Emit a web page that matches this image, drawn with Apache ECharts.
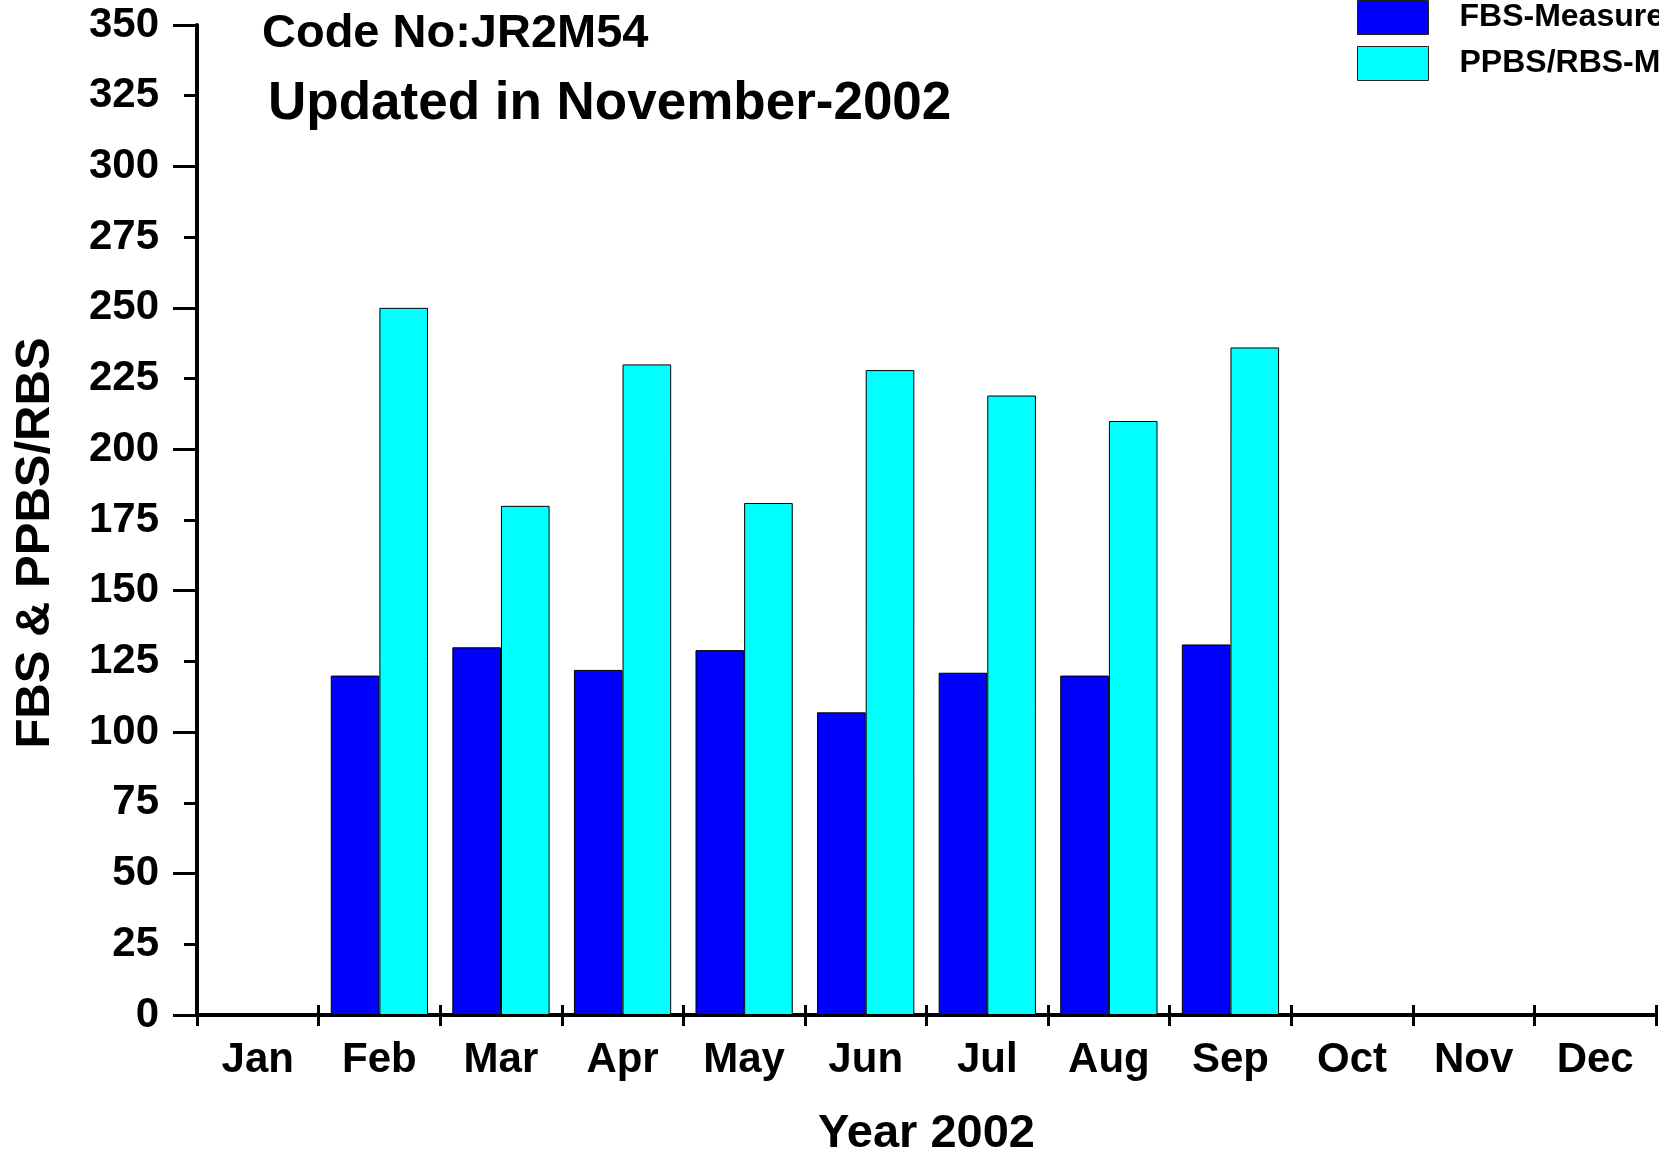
<!DOCTYPE html>
<html>
<head>
    <meta http-equiv="Content-Type" content="text/html; charset=UTF-8">
    <title>FBS PPBS/RBS 2002</title>
    <script type="text/javascript" src="https://cdn.jsdelivr.net/npm/echarts@6/dist/echarts.min.js"></script>
    <style>
        body { margin: 0; background: #fff; }
    </style>
</head>
<body>
<div id="main" style="width: 1659px;height:1152px;"></div>
<script type="text/javascript">
    // months on the x axis
    var months = ['Jan', 'Feb', 'Mar', 'Apr', 'May', 'Jun', 'Jul', 'Aug', 'Sep', 'Oct', 'Nov', 'Dec'];
    // FBS measured (null = no reading)
    var fbsValues = [null, 120, 130, 122, 129, 107, 121, 120, 131, null, null, null];
    // PPBS/RBS measured
    var ppbsValues = [null, 250, 180, 230, 181, 228, 219, 210, 236, null, null, null];
    var seriesNames = ['FBS-Measured', 'PPBS/RBS-Measured'];

    var font = 'Liberation Sans, Arial, sans-serif';
    var myChart = echarts.init(document.getElementById('main'));

    myChart.setOption({
        animation: false,
        backgroundColor: '#fff',
        graphic: [
            {
                type: 'text', left: 262, top: 11,
                style: { text: 'Code No:JR2M54', font: 'bold 47px ' + font, fill: '#000' }
            },
            {
                type: 'text', left: 268, top: 78,
                style: { text: 'Updated in November-2002', font: 'bold 53px ' + font, fill: '#000' }
            }
        ],
        legend: {
            orient: 'vertical',
            left: 1357,
            top: 0,
            padding: 0,
            icon: 'rect',
            itemWidth: 71,
            itemHeight: 34,
            itemGap: 11,
            data: seriesNames,
            itemStyle: { borderColor: '#222', borderWidth: 1 },
            textStyle: { fontFamily: font, fontWeight: 'bold', fontSize: 32, color: '#000', padding: [0, 0, 0, 26] }
        },
        grid: { left: 197, right: 3, top: 25, bottom: 137, outerBoundsMode: 'none' },
        xAxis: {
            // axis lifted 10px so the month ticks cross the zero line; line itself comes from yAxis[2]
            type: 'category',
            data: months,
            offset: -10,
            name: 'Year 2002',
            nameLocation: 'middle',
            nameGap: 106,
            nameTextStyle: { fontFamily: font, fontWeight: 'bold', fontSize: 47, color: '#000' },
            axisLine: { show: false, onZero: false },
            axisTick: { show: true, interval: 0, length: 21, lineStyle: { color: '#000', width: 3 } },
            axisLabel: { interval: 0, fontFamily: font, fontWeight: 'bold', fontSize: 42, color: '#000', margin: 34 },
            splitLine: { show: false }
        },
        yAxis: [
            {
                type: 'value',
                min: 0,
                max: 350,
                interval: 25,
                name: 'FBS & PPBS/RBS',
                nameLocation: 'middle',
                nameGap: 137,
                nameTextStyle: { fontFamily: font, fontWeight: 'bold', fontSize: 49, color: '#000', padding: [0, 46, 0, 0] },
                axisLine: { show: true, lineStyle: { color: '#000', width: 4 } },
                axisTick: { show: true, length: 13, lineStyle: { color: '#000', width: 3 } },
                axisLabel: { fontFamily: font, fontWeight: 'bold', fontSize: 42, color: '#000', margin: 38 },
                splitLine: { show: false }
            },
            {
                // long ticks every 50
                type: 'value',
                min: 0,
                max: 350,
                interval: 50,
                position: 'left',
                axisLine: { show: false },
                axisTick: { show: true, length: 24, lineStyle: { color: '#000', width: 3 } },
                axisLabel: { show: false },
                splitLine: { show: false }
            },
            {
                // zero line (x axis line)
                type: 'value',
                min: 0,
                max: 350,
                interval: 350,
                position: 'left',
                axisLine: { show: false },
                axisTick: { show: false },
                axisLabel: { show: false },
                splitLine: { show: true, lineStyle: { color: ['#000', 'rgba(0,0,0,0)'], width: 4 } }
            }
        ],
        series: [
            {
                name: seriesNames[0],
                type: 'bar',
                data: fbsValues,
                barGap: '0%',
                barCategoryGap: '20%',
                itemStyle: { color: '#0000ff', borderColor: '#000', borderWidth: 1 }
            },
            {
                name: seriesNames[1],
                type: 'bar',
                data: ppbsValues,
                barGap: '0%',
                barCategoryGap: '20%',
                itemStyle: { color: '#00ffff', borderColor: '#000', borderWidth: 1 }
            }
        ]
    });
</script>
</body>
</html>
